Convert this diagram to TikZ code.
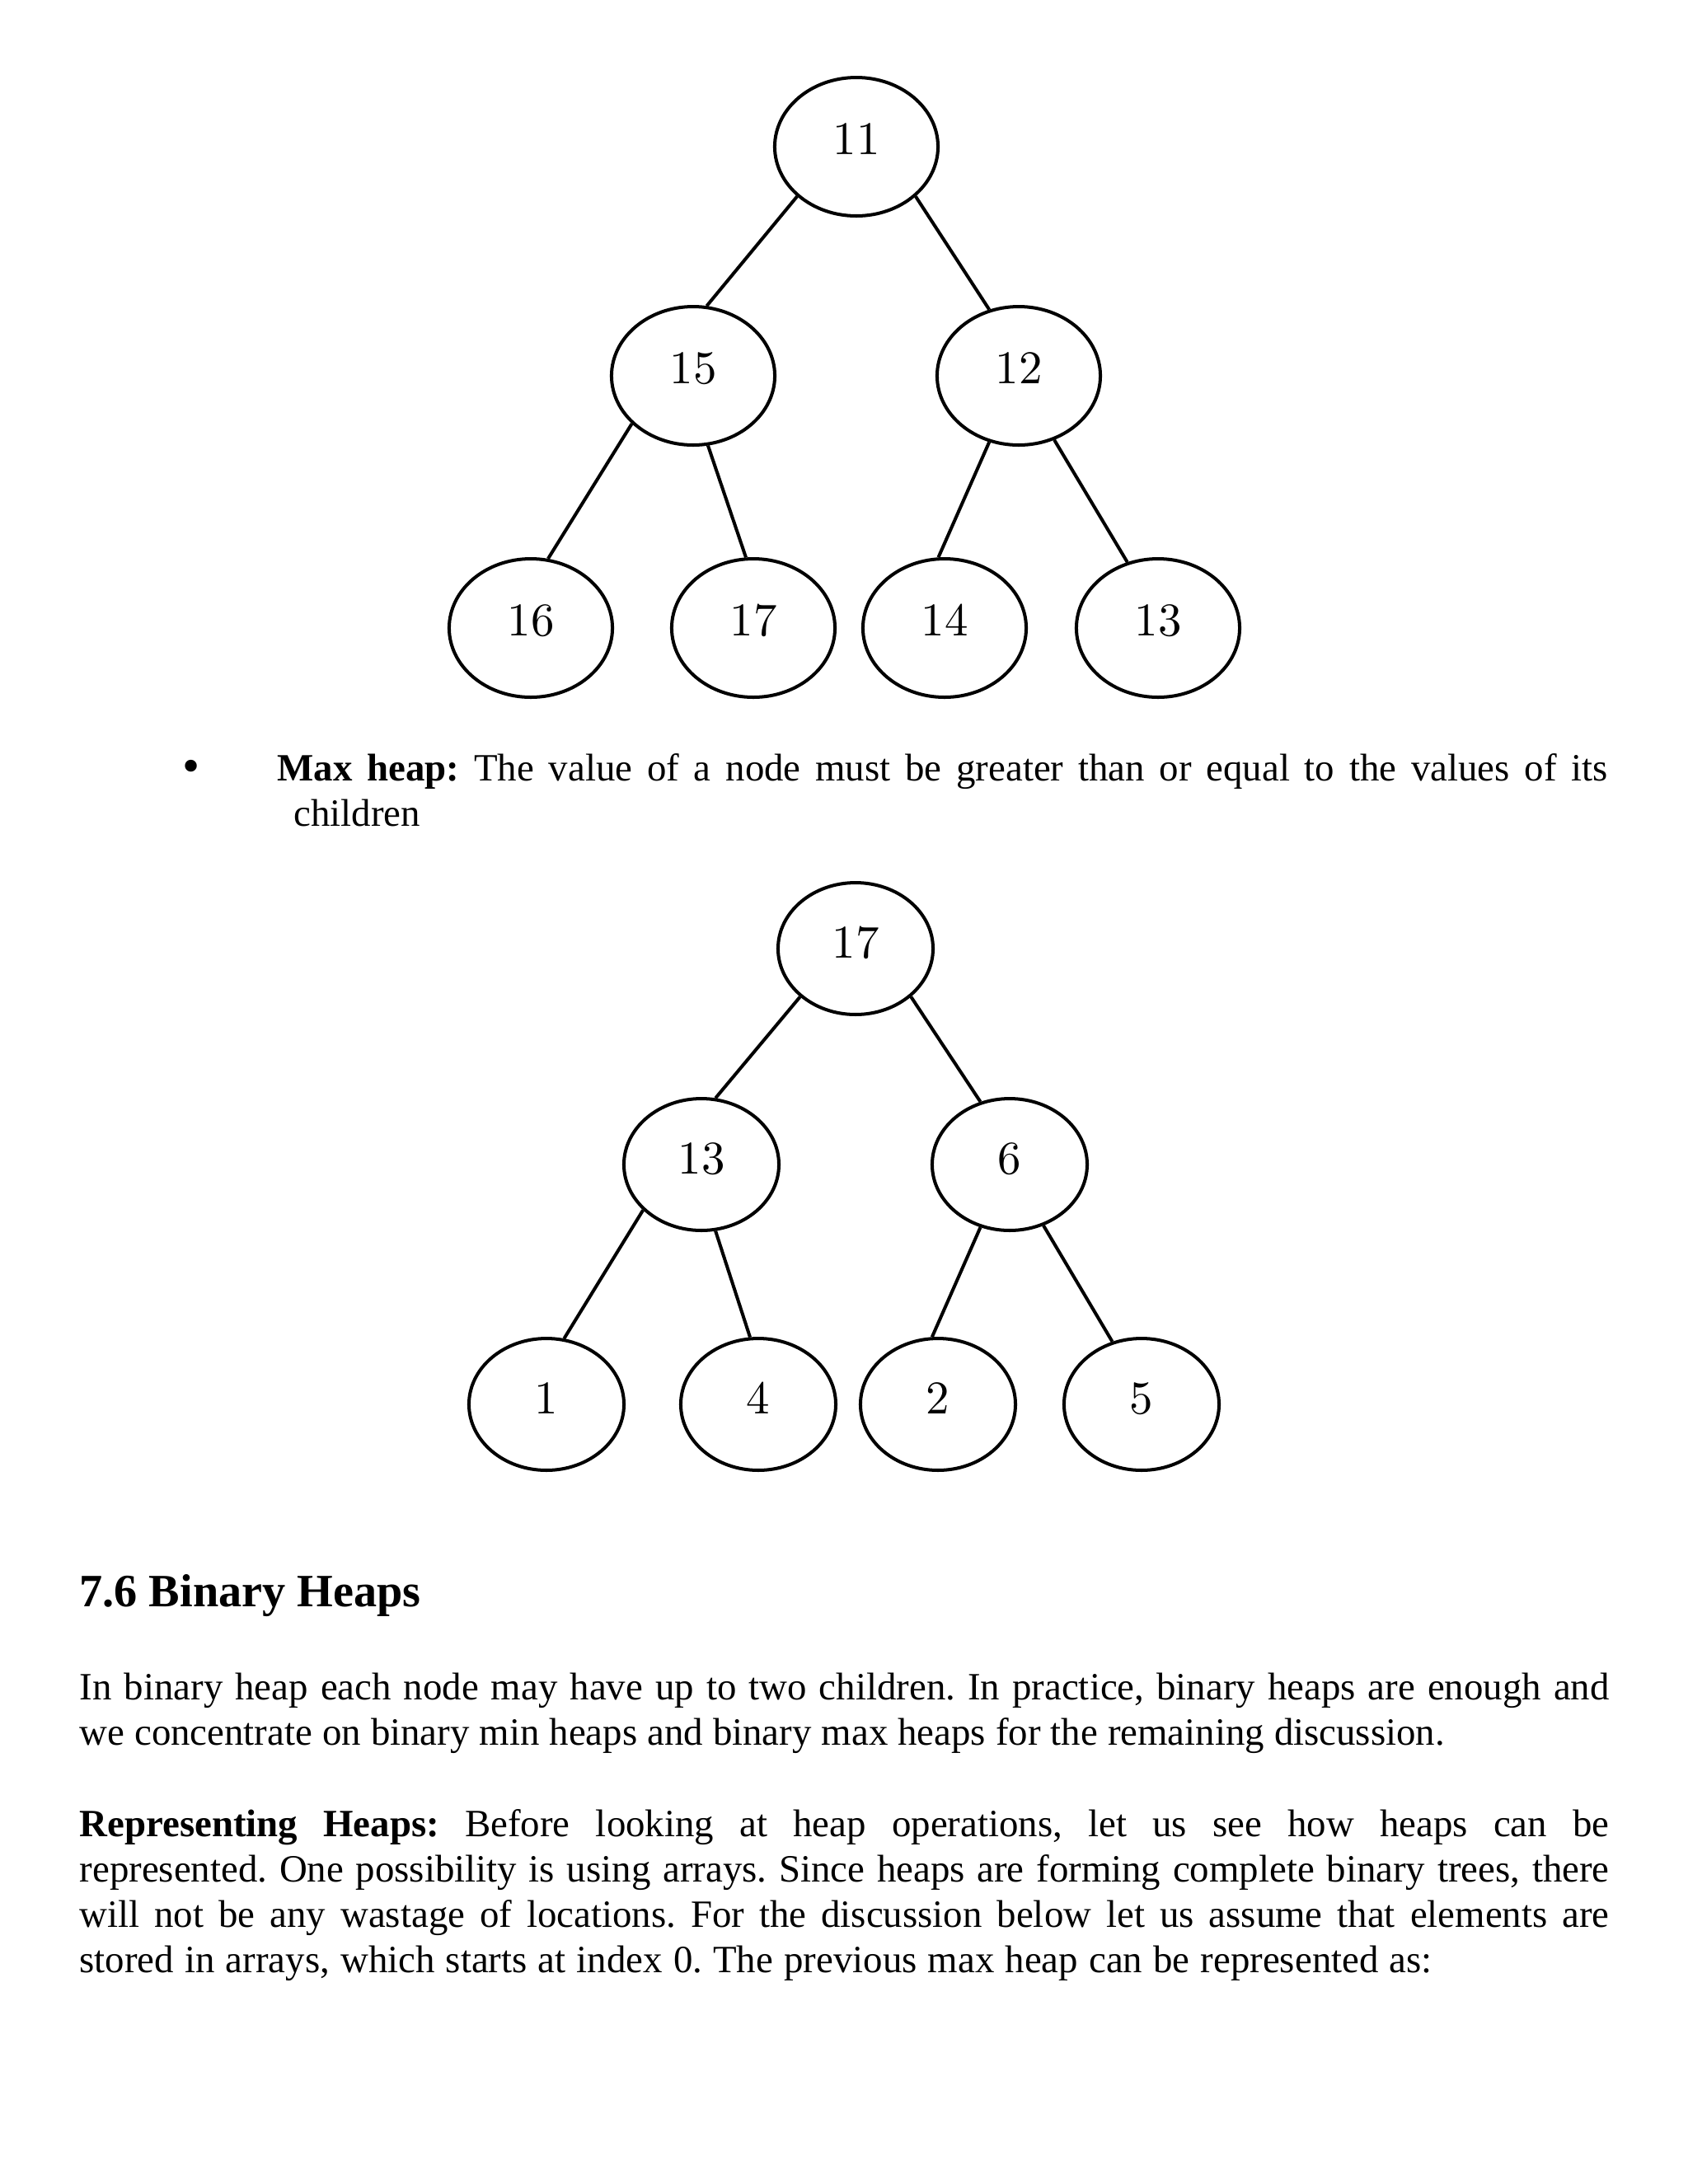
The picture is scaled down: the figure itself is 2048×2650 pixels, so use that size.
\documentclass[tikz,border=0pt]{standalone}
\usepackage{fontspec}
\newfontfamily\tnr{Liberation Serif}
\newfontfamily\numfont{lmroman10-regular.otf}
\usetikzlibrary{shapes.geometric}
\frenchspacing
\begin{document}
\begin{tikzpicture}[x=0.29883pt,y=-0.29883pt,
  hnode/.style={ellipse,draw,line width=1.2pt,inner sep=0pt,font=\numfont\fontsize{17}{20}\selectfont,text height=11.14pt},
  bignode/.style={hnode,minimum width=59.2pt,minimum height=50.2pt,text depth=5.4pt},
  smallnode/.style={hnode,minimum width=56.2pt,minimum height=47.8pt,text depth=4.2pt},
  link/.style={line width=1.2pt},
  body/.style={inner sep=0pt,anchor=base west,font=\tnr\fontsize{14}{16.6}\selectfont},
  headstyle/.style={inner sep=0pt,anchor=base west,font=\tnr\bfseries\fontsize{16.8}{20}\selectfont}
]
\fill[white] (0,0) rectangle (2048,2650);
\path[use as bounding box] (0,0) rectangle (2048,2650);

% tree 1
\node[bignode] (a11) at (1039,178) {11};
\node[bignode] (a15) at (841,456) {15};
\node[bignode] (a12) at (1236,456) {12};
\node[bignode] (a16) at (644,762) {16};
\node[bignode] (a17) at (914,762) {17};
\node[bignode] (a14) at (1146,762) {14};
\node[bignode] (a13) at (1405,762) {13};
\draw[link] (a11.220) -- (a15.79);
\draw[link] (a11.320) -- (a12.114);
\draw[link] (a15.218) -- (a16.76);
\draw[link] (a15.282) -- (a17.96);
\draw[link] (a12.246) -- (a14.95);
\draw[link] (a12.299) -- (a13.115);

% bullet text
\node[inner sep=0pt,anchor=base,font=\tnr\fontsize{18}{20}\selectfont] (bul) at (232,949) {•};
\node[body] (mh1) at (336,947) {\makebox[482.3pt][s]{\textbf{Max heap:} The value of a node must be greater than or equal to the values of its}};
\node[body] (mh2) at (356,1002) {children};

% tree 2
\node[smallnode] (b17) at (1038,1151) {17};
\node[smallnode] (b13) at (851,1413) {13};
\node[smallnode] (b6) at (1225,1413) {6};
\node[smallnode] (b1) at (663,1704) {1};
\node[smallnode] (b4) at (920,1704) {4};
\node[smallnode] (b2) at (1138,1704) {2};
\node[smallnode] (b5) at (1385,1704) {5};
\draw[link] (b17.221) -- (b13.78);
\draw[link] (b17.319) -- (b6.115);
\draw[link] (b13.218) -- (b1.75);
\draw[link] (b13.282) -- (b4.97);
\draw[link] (b6.245) -- (b2.95);
\draw[link] (b6.299) -- (b5.115);

% section text
\node[headstyle] (head) at (96,1949) {7.6 Binary Heaps};
\node[body] (p1a) at (96,2062) {\makebox[554.6pt][s]{In binary heap each node may have up to two children. In practice, binary heaps are enough and}};
\node[body] (p1b) at (96,2117) {\makebox[494.9pt][s]{we concentrate on binary min heaps and binary max heaps for the remaining discussion.}};
\node[body] (p2a) at (96,2228) {\makebox[554.6pt][s]{\textbf{Representing Heaps:} Before looking at heap operations, let us see how heaps can be}};
\node[body] (p2b) at (96,2283) {\makebox[554.6pt][s]{represented. One possibility is using arrays. Since heaps are forming complete binary trees, there}};
\node[body] (p2c) at (96,2338) {\makebox[554.6pt][s]{will not be any wastage of locations. For the discussion below let us assume that elements are}};
\node[body] (p2d) at (96,2393) {\makebox[490.4pt][s]{stored in arrays, which starts at index 0. The previous max heap can be represented as:}};
\end{tikzpicture}
\end{document}
